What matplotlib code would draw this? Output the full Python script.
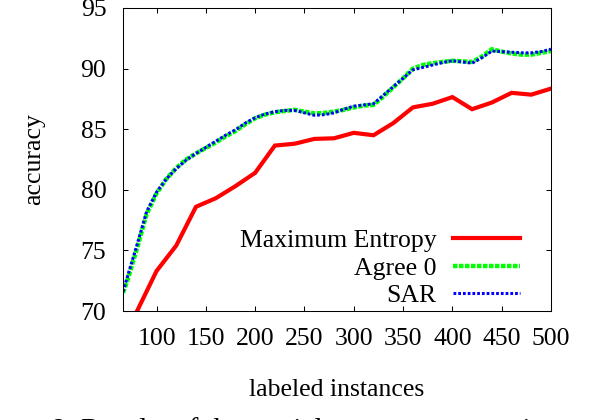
import matplotlib
matplotlib.use('Agg')
import matplotlib.pyplot as plt

plt.rcParams['font.family'] = ['Liberation Serif', 'DejaVu Serif']

# Maximum Entropy, every 20 instances
maxent_x = [80, 100, 120, 140, 160, 180, 200, 220, 240, 260, 280, 300, 320, 340,
            360, 380, 400, 420, 440, 460, 480, 500]
maxent_y = [69.95, 73.3, 75.4, 78.6, 79.3, 80.3, 81.4, 83.65, 83.8, 84.2, 84.25, 84.7,
            84.5, 85.5, 86.8, 87.1, 87.65, 86.65, 87.2, 88.0, 87.85, 88.35]

# Agree 0 and SAR, every 10 instances
curve_x = [66, 70, 80, 90, 100, 110, 120, 130, 140, 150, 160, 170, 180, 190, 200,
           210, 220, 230, 240, 250, 260, 270, 280, 290, 300, 310, 320, 330, 340, 350,
           360, 370, 380, 390, 400, 410, 420, 430, 440, 450, 460, 470, 480, 490, 500]
agree_y = [71.5, 72.4, 75.1, 78.0, 79.7, 80.9, 81.8, 82.5, 83.0, 83.45, 83.9, 84.4,
           84.85, 85.4, 85.9, 86.2, 86.4, 86.5, 86.6, 86.45, 86.3, 86.35, 86.45, 86.6,
           86.8, 86.95, 87.0, 87.7, 88.45, 89.2, 90.0, 90.3, 90.45, 90.55, 90.65, 90.6,
           90.55, 91.0, 91.6, 91.4, 91.25, 91.15, 91.15, 91.3, 91.45]
sar_y = [71.6, 72.7, 75.4, 78.2, 79.8, 80.9, 81.75, 82.45, 83.0, 83.5, 84.0, 84.5,
         84.95, 85.5, 85.95, 86.25, 86.45, 86.55, 86.55, 86.35, 86.15, 86.2, 86.35,
         86.65, 86.9, 87.0, 87.1, 87.8, 88.5, 89.2, 89.9, 90.1, 90.3, 90.5, 90.65,
         90.55, 90.45, 90.9, 91.45, 91.4, 91.35, 91.3, 91.3, 91.4, 91.6]

x_ticks = [100, 150, 200, 250, 300, 350, 400, 450, 500]
y_ticks = [70, 75, 80, 85, 90, 95]

fig = plt.figure(figsize=(5.96, 4.2), dpi=100)
ax = fig.add_axes([123 / 596, 109 / 420, 428 / 596, 303 / 420])

ax.plot(maxent_x, maxent_y, color='#ff0000', lw=3.0, label='Maximum Entropy',
        solid_joinstyle='miter')
ax.plot(curve_x, agree_y, color='#00ff00', lw=3.2, linestyle=(0, (1.0, 0.35)),
        label='Agree 0')
ax.plot(curve_x, sar_y, color='#0000ff', lw=2.2, linestyle=(0, (0.9, 0.65)),
        label='SAR')

ax.set_xlim(66, 500)
ax.set_ylim(70, 95)
ax.set_xticks(x_ticks)
ax.set_yticks(y_ticks)
ax.tick_params(direction='in', length=3.6, width=0.75, top=True, right=True,
               labelsize=18.5, pad=12)
for s in ax.spines.values():
    s.set_linewidth(0.75)

ax.set_xlabel('labeled instances', fontsize=18.5)
ax.set_ylabel('accuracy', fontsize=18.5)
ax.xaxis.set_label_coords(0.5, -0.224)
ax.yaxis.set_label_coords(-0.182, 0.5)

leg = ax.legend(loc='lower right', bbox_to_anchor=(0.937, 0.0), markerfirst=False,
                frameon=False, fontsize=18.5, handlelength=2.6, handletextpad=0.65,
                labelspacing=0.17, borderpad=0.0, borderaxespad=0.15)

# caption of the figure, cut by the lower edge as in the source
fig.text(-31.5 / 596, -17.5 / 420,
         'Figure 8: Results of the partial agreement experiment',
         fontsize=21, ha='left', va='baseline')

fig.savefig('out.png', dpi=100)
